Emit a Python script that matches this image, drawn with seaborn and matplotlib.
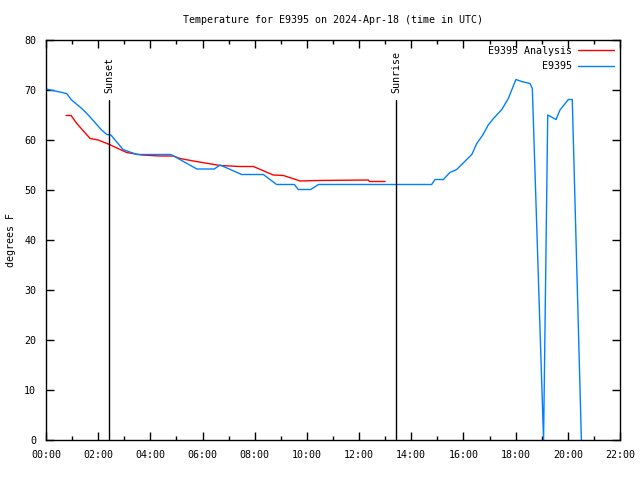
import pandas as pd
import numpy as np
import matplotlib
matplotlib.use("Agg")
import matplotlib.pyplot as plt
import seaborn as sns

# ----------------------------
# Data (hours UTC, degrees F)
# ----------------------------

analysis_hours = [0.77, 0.96, 1.18, 1.69, 1.81, 2.0, 2.43, 3.09, 3.67, 4.37, 4.88,
                  5.14, 5.65, 6.67, 7.44, 7.95, 8.71, 9.10, 9.74, 10.38, 12.35,
                  12.40, 13.0]
analysis_temp = [64.9, 64.9, 63.3, 60.3, 60.2, 60.0, 59.1, 57.5, 57.0, 56.8, 56.8,
                 56.3, 55.8, 54.9, 54.7, 54.7, 53.0, 52.9, 51.8, 51.9, 52.0,
                 51.7, 51.7]

station_hours = [0.0, 0.79, 0.98, 1.37, 1.62, 2.13, 2.33, 2.49, 2.95, 3.48, 4.79,
                 5.78, 6.45, 6.67, 7.50, 8.33, 8.84, 9.52, 9.67, 10.15, 10.44,
                 14.78, 14.91, 15.23, 15.48, 15.74, 16.32, 16.51, 16.74, 16.95,
                 17.15, 17.47, 17.72, 18.01, 18.23, 18.55, 18.64, 19.07, 19.23,
                 19.55, 19.70, 20.02, 20.17, 20.52]
station_temp = [70.2, 69.3, 68.0, 66.3, 65.0, 62.0, 61.1, 61.0, 58.1, 57.1, 57.1,
                54.2, 54.2, 55.0, 53.1, 53.1, 51.1, 51.1, 50.1, 50.1, 51.1,
                51.1, 52.1, 52.1, 53.5, 54.1, 57.1, 59.3, 61.0, 63.0,
                64.3, 66.1, 68.3, 72.1, 71.7, 71.3, 70.3, 0.0, 65.0,
                64.1, 66.0, 68.1, 68.1, 0.0]

sun_events = ["Sunset", "Sunrise"]
sun_hours = [2.42, 13.41]

xtick_labels = ["00:00", "02:00", "04:00", "06:00", "08:00", "10:00",
                "12:00", "14:00", "16:00", "18:00", "20:00", "22:00"]

df_analysis = pd.DataFrame({"hour": analysis_hours, "temp": analysis_temp})
df_station = pd.DataFrame({"hour": station_hours, "temp": station_temp})

# ----------------------------
# Plot
# ----------------------------

sns.set_style("ticks")
plt.rcParams["font.family"] = ["DejaVu Sans Mono"]
plt.rcParams["font.size"] = 7.2
plt.rcParams["text.color"] = "black"
plt.rcParams["axes.labelcolor"] = "black"
plt.rcParams["xtick.color"] = "black"
plt.rcParams["ytick.color"] = "black"

fig = plt.figure(figsize=(6.4, 4.8), dpi=100)
ax = fig.add_axes([46/640, 40/480, 574/640, 400/480])

sns.lineplot(data=df_analysis, x="hour", y="temp", color="#ff0000",
             linewidth=1, label="E9395 Analysis", ax=ax)
sns.lineplot(data=df_station, x="hour", y="temp", color="#0080ff",
             linewidth=1, label="E9395", ax=ax)

for name, h in zip(sun_events, sun_hours):
    ax.plot([h, h], [0, 68], color="black", linewidth=1)
    ax.text(h, 69.3, name, rotation=90, ha="center", va="bottom", fontsize=7.2)

ax.set_xlim(0, 22)
ax.set_ylim(0, 80)
ax.set_xticks(np.arange(0, 23, 2))
ax.set_xticklabels(xtick_labels)
ax.set_xticks(np.arange(0, 23, 1), minor=True)
ax.set_yticks(np.arange(0, 81, 10))

ax.tick_params(axis="both", which="major", direction="in", length=6,
               top=True, right=True, width=1, labelsize=7.2, pad=7)
ax.tick_params(axis="x", which="minor", direction="in", length=3,
               top=True, width=1)
for s in ax.spines.values():
    s.set_linewidth(1)
    s.set_color("black")

ax.set_xlabel("")
ax.set_ylabel("degrees F", fontsize=7.2, labelpad=6)
ax.set_title("Temperature for E9395 on 2024-Apr-18 (time in UTC)",
             fontsize=7.2, pad=12)

ax.legend(loc="upper right", frameon=False, markerfirst=False,
          fontsize=7.2, handlelength=3.6, borderaxespad=0.2,
          labelspacing=0.55, handletextpad=0.6)

plt.savefig("out.png", dpi=100)
